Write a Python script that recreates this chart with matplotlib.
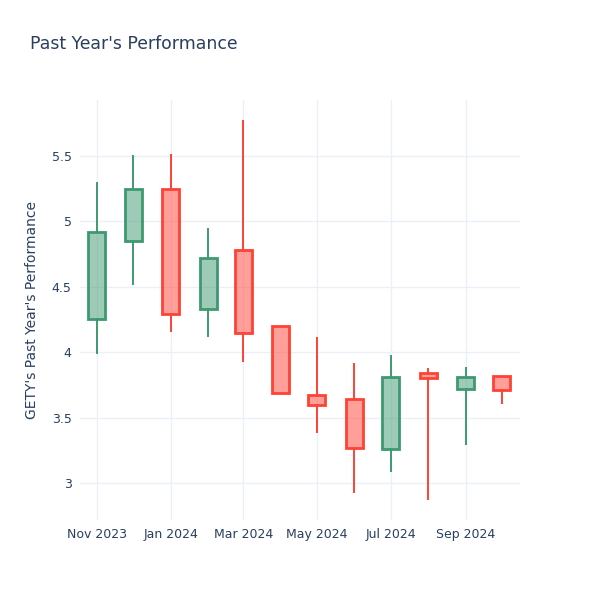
import pandas as pd
import matplotlib.pyplot as plt
import matplotlib.dates as mdates

dates = pd.date_range("2023-11-01", periods=12, freq="MS")
opens = [4.25, 4.85, 5.25, 4.33, 4.78, 4.20, 3.67, 3.64, 3.26, 3.84, 3.72, 3.82]
closes = [4.92, 5.25, 4.29, 4.72, 4.15, 3.69, 3.60, 3.27, 3.81, 3.80, 3.81, 3.71]
highs = [5.29, 5.50, 5.51, 4.94, 5.77, 4.20, 4.11, 3.91, 3.97, 3.87, 3.88, 3.82]
lows = [3.99, 4.52, 4.16, 4.12, 3.93, 3.69, 3.39, 2.93, 3.09, 2.88, 3.30, 3.61]

text_color = "#2a3f5f"
grid_color = "#EBF0F8"
up_color = "#3D9970"
down_color = "#FF4136"

fig = plt.figure(figsize=(6, 6), dpi=100)
ax = fig.add_axes([80 / 600, 80 / 600, 440 / 600, 420 / 600])

x = mdates.date2num(dates)
width = 14
for xi, o, c, h, l in zip(x, opens, closes, highs, lows):
    color = up_color if c >= o else down_color
    ax.plot([xi, xi], [max(o, c), h], color=color, lw=1.4, zorder=2)
    ax.plot([xi, xi], [l, min(o, c)], color=color, lw=1.4, zorder=2)
    rect = plt.Rectangle((xi - width / 2, min(o, c)), width, abs(c - o),
                         facecolor=color, alpha=0.5, edgecolor="none", zorder=3)
    ax.add_patch(rect)
    rect2 = plt.Rectangle((xi - width / 2, min(o, c)), width, abs(c - o),
                          facecolor="none", edgecolor=color, lw=2, zorder=4)
    ax.add_patch(rect2)

ax.set_xlim(mdates.date2num(pd.Timestamp("2023-10-18")), mdates.date2num(pd.Timestamp("2024-10-16")))
ax.set_ylim(2.717, 5.928)

ax.xaxis.set_major_locator(mdates.MonthLocator(bymonth=[1, 3, 5, 7, 9, 11]))
ax.xaxis.set_major_formatter(mdates.DateFormatter("%b %Y"))
ax.set_yticks([3, 3.5, 4, 4.5, 5, 5.5])
ax.set_yticklabels(["3", "3.5", "4", "4.5", "5", "5.5"])

ax.grid(True, color=grid_color, lw=1, zorder=0)
ax.set_axisbelow(True)
for s in ax.spines.values():
    s.set_visible(False)
ax.tick_params(length=0, colors=text_color, labelsize=9, pad=6)

ax.set_ylabel("GETY's Past Year's Performance", color=text_color, fontsize=10, labelpad=9)
fig.text(30 / 600, 1 - 44 / 600, "Past Year's Performance", color=text_color,
         fontsize=12.4, va="center", ha="left")

fig.savefig("out.png", dpi=100)
